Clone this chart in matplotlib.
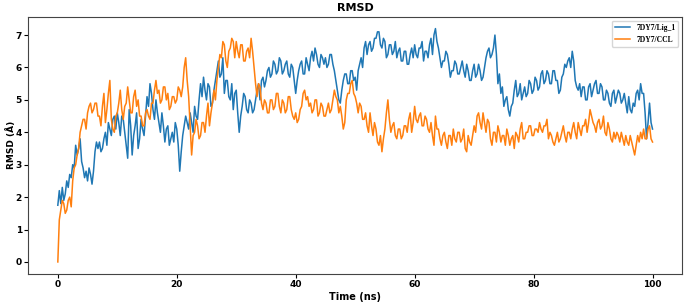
import matplotlib
matplotlib.use("Agg")
import matplotlib.pyplot as plt
import numpy as np

# RMSD, 0.25 ns apart, 0 to 100 ns
lig_1 = [
    1.75, 2.2, 1.8, 2.3, 1.9, 2.1, 2.5, 2.3, 2.7, 2.6,
    3.0, 2.9, 3.6, 3.3, 3.5, 3.8, 3.1, 2.9, 2.6, 2.8,
    2.5, 2.9, 2.7, 2.4, 2.8, 3.4, 3.7, 3.5, 3.7, 3.4,
    3.5, 3.8, 4.0, 3.6, 4.3, 4.1, 3.9, 4.4, 4.5, 4.1,
    4.6, 4.3, 3.9, 4.5, 4.4, 4.0, 3.6, 3.2, 4.7, 4.2,
    3.3, 3.9, 4.2, 4.6, 3.5, 3.8, 4.4, 4.1, 3.9, 4.5,
    5.1, 4.8, 5.5, 5.2, 4.7, 4.4, 5.0, 4.6, 4.3, 4.0,
    4.6, 4.2, 3.7, 4.1, 4.2, 3.6, 3.8, 4.0, 3.7, 4.3,
    4.1, 3.6, 2.8, 3.4, 3.9, 4.2, 4.5, 4.3, 4.1, 4.6,
    4.3, 4.0, 4.8, 4.5, 4.4, 5.0, 5.5, 5.1, 5.7, 5.3,
    5.0, 5.5, 5.4, 4.8, 4.9, 5.3, 5.6, 5.9, 6.2, 5.7,
    5.8, 6.3, 5.2, 5.6, 5.6, 5.1, 5.0, 5.5, 4.7, 5.2,
    5.3, 4.6, 4.0, 4.5, 4.8, 5.2, 5.1, 4.7, 4.6, 5.0,
    4.9, 4.6, 4.7, 5.0, 5.3, 5.5, 5.0, 5.6, 5.7, 5.4,
    5.6, 5.9, 6.0, 5.7, 5.8, 6.2, 6.1, 5.8, 5.9, 6.3,
    6.2, 5.8, 5.9, 6.1, 6.2, 5.8, 5.7, 6.1, 6.0, 5.6,
    5.2, 5.6, 5.9, 6.1, 6.2, 5.8, 5.8, 6.3, 6.1, 5.9,
    6.3, 6.5, 6.2, 6.6, 6.4, 6.1, 6.0, 6.4, 6.3, 6.1,
    6.3, 6.0, 6.1, 6.4, 6.4, 6.1, 5.9, 5.6, 5.3, 5.0,
    4.9, 5.3, 5.6, 5.8, 5.8, 5.5, 5.5, 5.9, 5.9, 5.6,
    5.7, 5.3, 5.9, 6.1, 6.3, 6.0, 6.6, 6.8, 6.4, 6.7,
    6.8, 6.5, 6.6, 6.9, 6.9, 7.1, 7.1, 6.7, 6.6, 6.9,
    6.8, 6.3, 6.4, 6.7, 6.7, 6.4, 6.5, 6.8, 6.3, 6.5,
    6.6, 6.2, 6.2, 6.5, 6.5, 6.1, 6.1, 6.4, 6.6, 6.3,
    6.7, 6.4, 6.3, 6.6, 6.6, 6.8, 6.2, 6.5, 6.5, 6.3,
    6.7, 6.9, 6.4, 7.0, 7.2, 6.8, 6.6, 6.3, 6.0, 6.2,
    6.2, 6.5, 6.4, 6.1, 5.7, 5.9, 5.9, 6.2, 6.1, 5.8,
    5.8, 6.0, 6.2, 5.9, 5.7, 6.1, 5.9, 5.6, 5.6, 5.9,
    6.1, 5.7, 5.8, 6.1, 5.9, 5.6, 5.7, 6.0, 6.3, 6.5,
    6.6, 6.3, 6.4, 6.6, 7.0, 6.4, 5.5, 5.8, 5.2, 5.4,
    4.8, 5.0, 5.1, 4.7, 4.5, 4.8, 4.9, 5.3, 5.6, 5.1,
    5.2, 5.5, 5.0, 5.2, 5.4, 5.1, 5.2, 5.6, 5.5, 5.2,
    5.3, 5.7, 5.6, 5.3, 5.4, 5.8, 5.9, 5.5, 5.6, 5.9,
    5.8, 5.5, 5.5, 5.9, 5.9, 5.6, 5.6, 5.2, 5.3, 5.7,
    5.8, 6.1, 6.0, 6.2, 6.3, 6.0, 6.5, 6.2, 5.6, 5.4,
    5.3, 5.5, 5.1, 5.4, 5.4, 5.0, 5.0, 5.4, 5.5, 5.1,
    5.3, 5.5, 5.6, 5.2, 5.2, 5.5, 5.4, 5.0, 5.0, 5.3,
    5.2, 4.9, 4.8, 5.2, 5.3, 4.9, 5.1, 5.3, 5.2, 4.9,
    5.0, 5.2, 4.9, 4.6, 5.1, 4.7, 4.6, 4.9, 4.8, 5.2,
    5.3, 5.0, 5.5, 5.2, 5.2, 4.6, 3.8, 4.3, 4.9, 4.3,
    4.1,
]

ccl = [
    0.0, 1.3, 1.6, 1.9, 1.8, 1.5, 1.6, 1.9, 2.0, 1.7,
    2.5, 2.9, 3.0, 3.3, 3.5, 4.0, 4.2, 4.4, 4.4, 4.1,
    4.6, 4.8, 4.9, 4.6, 4.7, 4.9, 4.9, 4.5, 4.5, 4.2,
    4.8, 5.2, 4.3, 4.7, 5.2, 5.6, 4.4, 4.1, 4.0, 4.5,
    4.6, 4.9, 5.3, 4.7, 4.4, 4.8, 4.9, 5.4, 5.0, 4.6,
    4.6, 5.1, 5.3, 4.8, 5.0, 4.5, 4.5, 4.2, 4.2, 4.6,
    4.7, 4.5, 4.4, 4.9, 4.9, 5.3, 5.6, 5.2, 5.3, 4.9,
    5.0, 5.4, 5.4, 5.0, 5.2, 4.7, 4.8, 5.1, 5.1, 4.9,
    5.0, 5.4, 5.3, 5.1, 5.4, 6.0, 6.3, 5.6, 5.1, 4.2,
    3.3, 3.9, 4.0, 4.4, 4.2, 3.8, 3.9, 4.3, 4.3, 4.0,
    4.5, 4.9, 4.2, 4.6, 4.9, 5.3, 5.0, 5.6, 6.0, 6.4,
    6.3, 6.8, 6.7, 6.2, 6.0, 6.5, 6.6, 6.9, 6.8, 6.3,
    6.8, 6.5, 6.3, 6.7, 6.7, 6.2, 6.2, 6.5, 6.6, 6.3,
    6.9, 6.5, 6.0, 5.5, 5.1, 5.5, 5.4, 4.9, 4.7, 5.0,
    4.9, 4.6, 4.6, 5.0, 5.0, 4.7, 4.8, 5.2, 5.2, 4.8,
    4.6, 5.0, 4.9, 4.6, 4.7, 5.1, 5.1, 4.7, 4.5, 4.4,
    4.6, 4.3, 4.4, 4.7, 4.8, 5.2, 5.3, 5.0, 5.1, 4.8,
    4.9, 4.6, 4.7, 5.0, 5.0, 4.5, 4.6, 4.9, 4.8, 4.5,
    4.5, 4.7, 4.9, 4.6, 4.7, 5.0, 5.3, 5.1, 5.0, 4.6,
    4.8, 4.5, 4.1, 4.3, 5.0, 5.2, 5.2, 5.5, 5.6, 5.2,
    5.1, 4.9, 4.6, 4.9, 4.8, 4.4, 4.4, 4.6, 4.2, 4.0,
    4.6, 4.2, 3.9, 4.3, 4.1, 3.7, 3.6, 3.9, 3.4, 3.8,
    4.1, 4.6, 5.0, 4.4, 4.0, 4.2, 4.3, 3.9, 3.8, 4.1,
    4.1, 3.8, 3.9, 4.2, 4.2, 4.0, 4.4, 4.6, 4.0, 4.3,
    4.8, 4.4, 4.3, 4.5, 4.6, 4.2, 4.2, 4.5, 4.4, 4.1,
    4.0, 4.3, 3.9, 3.6, 4.5, 4.1, 4.1, 3.8, 3.6, 3.9,
    4.0, 3.7, 3.5, 3.9, 3.9, 3.6, 4.1, 3.8, 3.7, 4.0,
    4.0, 3.7, 3.8, 4.1, 3.5, 3.4, 3.9, 3.7, 3.6, 3.9,
    4.2, 4.0, 4.5, 4.6, 4.3, 4.1, 4.6, 4.3, 4.0, 4.4,
    4.3, 3.8, 3.6, 4.0, 4.0, 3.7, 4.2, 4.0, 3.7, 3.9,
    3.9, 3.6, 4.1, 3.9, 3.6, 3.8, 3.9, 3.5, 4.0, 3.9,
    3.7, 4.1, 4.3, 3.8, 3.8, 4.0, 4.0, 4.2, 4.2, 3.9,
    3.9, 4.1, 4.1, 4.0, 4.3, 4.1, 4.0, 4.2, 4.2, 4.4,
    3.8, 4.0, 3.9, 3.7, 3.6, 3.8, 4.0, 3.7, 3.8, 4.0,
    4.2, 3.9, 3.7, 4.0, 4.0, 3.8, 4.1, 4.3, 4.0, 3.8,
    4.3, 4.1, 3.9, 4.2, 4.2, 4.4, 4.0, 4.3, 4.7, 4.5,
    4.3, 4.2, 4.0, 4.3, 4.4, 4.1, 4.2, 4.5, 4.0, 3.9,
    4.3, 4.1, 3.8, 3.7, 4.0, 3.8, 4.0, 3.9, 3.7, 4.0,
    3.8, 3.6, 3.9, 3.7, 3.6, 3.9, 3.7, 3.5, 3.3, 3.6,
    3.9, 3.7, 4.0, 3.8, 4.1, 3.8, 3.8, 4.1, 4.2, 3.8,
    3.7,
]

labels = ["7DY7/Lig_1", "7DY7/CCL"]

t_lig = np.linspace(0, 100, len(lig_1))
t_ccl = np.linspace(0, 100, len(ccl))

fig = plt.figure(figsize=(6.85, 3.02), dpi=100)
ax = fig.add_axes([0.041, 0.094, 0.955, 0.85])

ax.plot(t_lig, lig_1, color="#1f77b4", lw=1.1, label=labels[0])
ax.plot(t_ccl, ccl, color="#ff7f0e", lw=1.1, label=labels[1])

ax.set_title("RMSD", fontsize=8, fontweight="bold", pad=4)
ax.set_xlabel("Time (ns)", fontsize=7, fontweight="bold", labelpad=2)
ax.set_ylabel("RMSD (Å)", fontsize=6.5, fontweight="bold")
ax.yaxis.set_label_coords(-0.019, 0.5)
ax.tick_params(labelsize=6.5, pad=1.5, length=3)
for t in ax.get_xticklabels() + ax.get_yticklabels():
    t.set_fontweight("bold")
for s in ax.spines.values():
    s.set_color("#444444")

ax.legend(loc="upper right", prop={"family": "Liberation Serif", "weight": "bold", "size": 5.5})

fig.savefig("out.png", dpi=100)
